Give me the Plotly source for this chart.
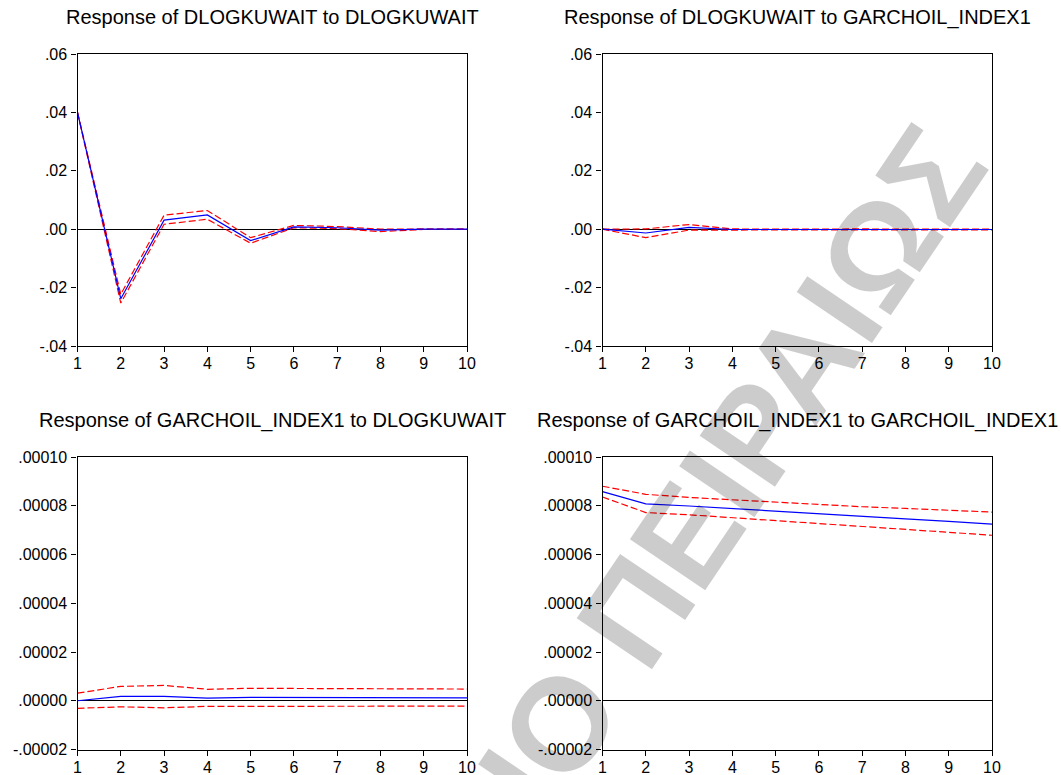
import plotly.graph_objects as go

# Impulse responses (Cholesky one S.D. innovations) with +/- 2 S.E. bands
periods = [1, 2, 3, 4, 5, 6, 7, 8, 9, 10]

kw_kw_resp = [0.0400, -0.0238, 0.0031, 0.0049, -0.0039, 0.0008, 0.0005, -0.0003, 0.0000, 0.0000]
kw_kw_upper = [0.0401, -0.0223, 0.0048, 0.0064, -0.0029, 0.0013, 0.0009, 0.0000, 0.0001, 0.0001]
kw_kw_lower = [0.0399, -0.0253, 0.0017, 0.0034, -0.0048, 0.0005, 0.0002, -0.0008, -0.0001, -0.0001]

kw_oil_resp = [0.0, -0.0013, 0.0006, -0.0001, -0.0001, -0.0001, -0.0001, -0.0001, -0.0001, -0.0001]
kw_oil_upper = [0.0, 0.0001, 0.0016, 0.0001, 0.0000, 0.0001, 0.0001, 0.0000, 0.0000, 0.0000]
kw_oil_lower = [0.0, -0.0029, -0.0003, -0.0003, -0.0002, -0.0002, -0.0002, -0.0002, -0.0002, -0.0002]

oil_kw_resp = [0.0, 1.8e-6, 1.8e-6, 1.1e-6, 1.4e-6, 1.3e-6, 1.3e-6, 1.2e-6, 1.2e-6, 1.2e-6]
oil_kw_upper = [3.1e-6, 5.9e-6, 6.3e-6, 4.7e-6, 5.1e-6, 5.1e-6, 4.9e-6, 4.8e-6, 4.8e-6, 4.8e-6]
oil_kw_lower = [-3.1e-6, -2.5e-6, -2.9e-6, -2.3e-6, -2.3e-6, -2.3e-6, -2.3e-6, -2.2e-6, -2.2e-6, -2.2e-6]

oil_oil_resp = [8.58e-5, 8.08e-5, 7.99e-5, 7.88e-5, 7.77e-5, 7.66e-5, 7.56e-5, 7.46e-5, 7.36e-5, 7.25e-5]
oil_oil_upper = [8.80e-5, 8.47e-5, 8.34e-5, 8.24e-5, 8.13e-5, 8.04e-5, 7.96e-5, 7.89e-5, 7.81e-5, 7.74e-5]
oil_oil_lower = [8.36e-5, 7.72e-5, 7.63e-5, 7.51e-5, 7.40e-5, 7.29e-5, 7.18e-5, 7.06e-5, 6.94e-5, 6.79e-5]

titles = [
    "Response of DLOGKUWAIT to DLOGKUWAIT",
    "Response of DLOGKUWAIT to GARCHOIL_INDEX1",
    "Response of GARCHOIL_INDEX1 to DLOGKUWAIT",
    "Response of GARCHOIL_INDEX1 to GARCHOIL_INDEX1",
]

top_ticks = [-0.04, -0.02, 0.0, 0.02, 0.04, 0.06]
top_tick_labels = ["-.04", "-.02", ".00", ".02", ".04", ".06"]
bottom_ticks = [-0.00002, 0.0, 0.00002, 0.00004, 0.00006, 0.00008, 0.00010]
bottom_tick_labels = ["-.00002", ".00000", ".00002", ".00004", ".00006", ".00008", ".00010"]

W, H = 1061, 775
FONT = "Liberation Sans, Arial, sans-serif"

panels = [
    (kw_kw_resp, kw_kw_upper, kw_kw_lower),
    (kw_oil_resp, kw_oil_upper, kw_oil_lower),
    (oil_kw_resp, oil_kw_upper, oil_kw_lower),
    (oil_oil_resp, oil_oil_upper, oil_oil_lower),
]

# panel frames in pixels: (left, right, top, bottom)
frames = [
    (77.5, 467, 54, 346),
    (602.5, 992, 54, 346),
    (77.5, 467, 457, 749.5),
    (602.5, 992, 457, 749.5),
]

fig = go.Figure()
layout = dict(
    template="none",
    width=W, height=H,
    margin=dict(l=0, r=0, t=0, b=0, autoexpand=False),
    paper_bgcolor="white", plot_bgcolor="white",
    showlegend=False,
    font=dict(family=FONT, color="black"),
    annotations=[],
)

for i, ((resp, up, lo), (l, r, t, b)) in enumerate(zip(panels, frames)):
    n = i + 1
    xa = "x" if n == 1 else f"x{n}"
    ya = "y" if n == 1 else f"y{n}"
    for band in (up, lo):
        fig.add_trace(go.Scatter(
            x=periods, y=band, xaxis=xa, yaxis=ya, mode="lines",
            line=dict(color="#ff0000", width=1.2, dash="7px,3px"),
        ))
    fig.add_trace(go.Scatter(
        x=periods, y=resp, xaxis=xa, yaxis=ya, mode="lines",
        line=dict(color="#0000ff", width=1.2),
    ))

    top_row = n <= 2
    yt = top_ticks if top_row else bottom_ticks
    ytl = top_tick_labels if top_row else bottom_tick_labels
    yr = [-0.04, 0.06] if top_row else [-0.00002, 0.00010]

    axis_common = dict(
        showline=True, linecolor="black", linewidth=1.3, mirror=True,
        showgrid=False, ticks="outside", ticklen=5, tickcolor="black",
        tickwidth=1, tickfont=dict(family=FONT, size=16, color="black"),
        automargin=False,
    )
    layout["xaxis" if n == 1 else f"xaxis{n}"] = dict(
        domain=[l / W, r / W], anchor=ya, range=[1, 10],
        tickvals=periods, ticktext=[str(p) for p in periods],
        zeroline=False, ticklabelstandoff=-2, **axis_common,
    )
    layout["yaxis" if n == 1 else f"yaxis{n}"] = dict(
        domain=[1 - b / H, 1 - t / H], anchor=xa, range=yr,
        tickvals=yt, ticktext=ytl,
        zeroline=True, zerolinecolor="black", zerolinewidth=1,
        ticklabelstandoff=1, **axis_common,
    )
    layout["annotations"].append(dict(
        text=titles[i], xref="paper", yref="paper",
        x=(l + r) / 2 / W, y=1 - (t - 37) / H,
        xanchor="center", yanchor="middle", showarrow=False,
        font=dict(family=FONT, size=20, color="black"),
    ))

# institutional watermark across the page
layout["annotations"].append(dict(
    text="ΠΑΝΕΠΙΣΤΗΜΙΟ ΠΕΙΡΑΙΩΣ", xref="paper", yref="paper",
    x=488 / W, y=1 - 830 / H, xanchor="center", yanchor="middle",
    showarrow=False, textangle=-56,
    font=dict(family=FONT, size=132, color="rgba(0,0,0,0.2)", weight="bold"),
))

fig.update_layout(**layout)
fig.write_html("out.html")
